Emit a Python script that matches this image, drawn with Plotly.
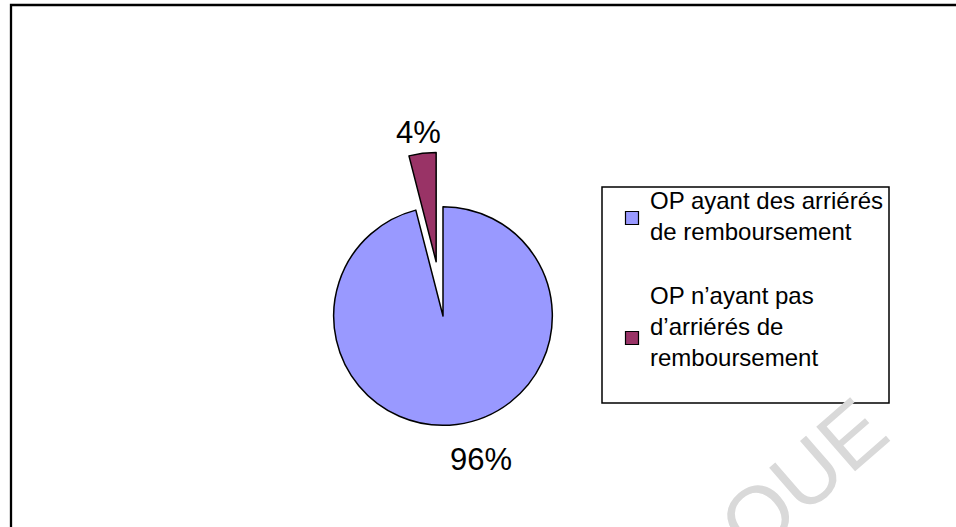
import plotly.graph_objects as go

# ---- data ----
labels = ["OP ayant des arriérés de remboursement",
          "OP n’ayant pas d’arriérés de remboursement"]
legend_lines = [["OP ayant des arriérés", "de remboursement"],
                ["OP n’ayant pas", "d’arriérés de", "remboursement"]]
values = [96, 4]
colors = ["#9999FF", "#993366"]

W, H = 956, 527


def px(x):
    return x / W


def py(y):
    return 1 - y / H


FONT = "Liberation Sans, Arial, sans-serif"

fig = go.Figure(go.Pie(
    labels=labels,
    values=values,
    sort=False,
    direction="clockwise",
    rotation=0,
    pull=[0, 0.5],
    marker=dict(colors=colors, line=dict(color="black", width=1.5)),
    textinfo="none",
    hoverinfo="label+percent",
    showlegend=False,
    domain=dict(x=[px(279), px(607)], y=[py(480), py(152)]),
))

total = sum(values)
pct_pos = [(481, 459), (418, 132)]
annotations = []
for v, (x, y) in zip(values, pct_pos):
    annotations.append(dict(
        x=px(x), y=py(y), xref="paper", yref="paper",
        text=f"{round(100 * v / total)}%", showarrow=False,
        xanchor="center", yanchor="middle",
        font=dict(family=FONT, size=31, color="black")))

shapes = [
    # outer frame
    dict(type="rect", xref="paper", yref="paper",
         x0=px(11), x1=1.05, y0=-0.05, y1=py(5),
         line=dict(color="black", width=2.3)),
    # legend box
    dict(type="rect", xref="paper", yref="paper",
         x0=px(602), x1=px(889), y0=py(403), y1=py(187),
         line=dict(color="black", width=1.5), fillcolor="rgba(0,0,0,0)"),
]

leg_pos = [(216, 218), (326, 338)]
for lines, c, (ty, sy) in zip(legend_lines, colors, leg_pos):
    shapes.append(dict(type="rect", xref="paper", yref="paper",
                       x0=px(625.5), x1=px(638.5), y0=py(sy + 6.5), y1=py(sy - 6.5),
                       fillcolor=c, line=dict(color="black", width=1.2)))
    annotations.append(dict(
        x=px(648), y=py(ty), xref="paper", yref="paper",
        text="<br>".join(lines), showarrow=False, align="left",
        xanchor="left", yanchor="middle",
        font=dict(family=FONT, size=24, color="black")))

# faint watermark
annotations.append(dict(
    x=px(803), y=py(477), xref="paper", yref="paper",
    text="QUE", showarrow=False, textangle=-41,
    xanchor="center", yanchor="middle",
    font=dict(family=FONT, size=86, color="#d9d9d9")))

fig.update_layout(
    width=W, height=H,
    margin=dict(l=0, r=0, t=0, b=0),
    paper_bgcolor="white", plot_bgcolor="white",
    shapes=shapes, annotations=annotations,
)

fig.write_html(
    "out.html",
    config={"displayModeBar": False},
    post_script="document.body.style.margin='0';document.body.style.overflow='hidden';",
)
